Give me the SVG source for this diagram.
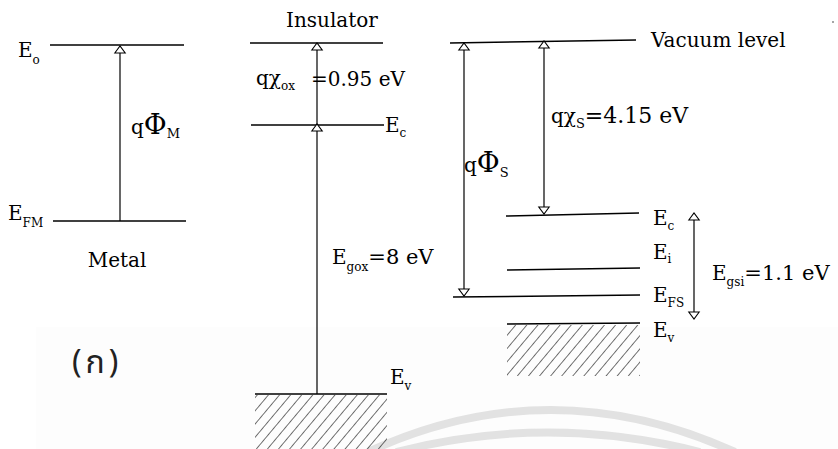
<svg xmlns="http://www.w3.org/2000/svg" width="838" height="449" viewBox="0 0 838 449">
<style>
.t{font-family:"DejaVu Serif","Liberation Serif",serif;font-size:20px;fill:#000}
.s{font-size:12px}
.n{font-size:21px}
.lv{stroke:#000;stroke-width:1.5;fill:none}
.ar{stroke:#000;stroke-width:1.2;fill:none}
.wm{stroke:#e2e2e2;stroke-width:8;fill:none}
</style>
<defs>
<marker id="tri" markerUnits="userSpaceOnUse" markerWidth="9" markerHeight="12" viewBox="0 0 9 12" refX="8" refY="6" orient="auto-start-reverse" style="overflow:visible">
<path d="M1,0.8 L8,6 L1,11.2 Z" fill="#fff" stroke="#000" stroke-width="1.1"/>
</marker>
<pattern id="hatch" patternUnits="userSpaceOnUse" width="8.5" height="20" patternTransform="rotate(40)">
<line x1="0" y1="0" x2="0" y2="20" stroke="#000" stroke-width="1.1"/>
</pattern>
</defs>
<rect x="0" y="0" width="838" height="449" fill="#fff"/>
<rect x="36" y="327" width="802" height="122" fill="#fdfdfd"/>
<g id="watermark">
<path class="wm" d="M368,452 Q550,368 735,452"/>
<path class="wm" d="M396,452 Q548,413 700,452"/>
</g>
<g id="metal">
<line class="lv" x1="50" y1="45" x2="184" y2="45"/>
<line class="lv" x1="53" y1="221" x2="186" y2="221"/>
<text class="t" x="18" y="57">E<tspan class="s" dy="7">o</tspan></text>
<text class="t" x="8" y="220">E<tspan class="s" dy="7">FM</tspan></text>
<text class="t" x="131" y="134">q<tspan font-size="28">Φ</tspan><tspan font-size="13" dy="4">M</tspan></text>
<text class="t" x="117" y="267" text-anchor="middle">Metal</text>
</g>
<g id="insulator">
<line class="lv" x1="250" y1="43" x2="383" y2="43"/>
<line class="lv" x1="251" y1="125" x2="384" y2="125"/>
<line class="lv" x1="255" y1="394" x2="387" y2="394"/>
<rect x="255" y="395" width="132" height="54" fill="url(#hatch)"/>
<text class="t" x="286" y="27" font-size="22">Insulator</text>
<text class="t" x="256" y="85" font-size="21">q<tspan>χ</tspan><tspan class="s" font-size="13" dy="5">ox</tspan></text>
<text class="t" x="311" y="86" font-size="22">=0.95 eV</text>
<text class="t" x="385" y="132">E<tspan class="s" dy="5">c</tspan></text>
<text class="t" x="332" y="264">E<tspan class="s" dy="7">gox</tspan><tspan class="n" dy="-7">=8 eV</tspan></text>
<text class="t" x="390" y="384">E<tspan class="s" dy="6">v</tspan></text>
</g>
<g id="semiconductor">
<line class="lv" x1="450" y1="43" x2="636" y2="40"/>
<line class="lv" x1="506" y1="216" x2="639" y2="213"/>
<line class="lv" x1="507" y1="270" x2="640" y2="268"/>
<line class="lv" x1="453" y1="297" x2="640" y2="295"/>
<line class="lv" x1="507" y1="324" x2="640" y2="323"/>
<rect x="507" y="325" width="133" height="51" fill="url(#hatch)"/>
<text class="t" x="651" y="47" font-size="21">Vacuum level</text>
<text class="t" x="464" y="172">q<tspan font-size="28">Φ</tspan><tspan font-size="13" dy="5">S</tspan></text>
<text class="t" x="551" y="123" font-size="21">q<tspan>χ</tspan><tspan font-size="13" dy="5">S</tspan><tspan font-size="22" dy="-5">=4.15 eV</tspan></text>
<text class="t" x="653" y="225">E<tspan class="s" dy="5">c</tspan></text>
<text class="t" x="653" y="259">E<tspan class="s" dy="4">i</tspan></text>
<text class="t" x="653" y="302">E<tspan class="s" dy="5">FS</tspan></text>
<text class="t" x="653" y="337">E<tspan class="s" dy="5">v</tspan></text>
<text class="t" x="712" y="280">E<tspan class="s" dy="6">gsi</tspan><tspan class="n" dy="-6">=1.1 eV</tspan></text>
</g>
<g id="connectors">
<line class="ar" x1="120" y1="221" x2="120" y2="46" marker-end="url(#tri)"/>
<line class="ar" x1="317" y1="394" x2="317" y2="124" marker-end="url(#tri)"/>
<line class="ar" x1="317" y1="125" x2="317" y2="43" marker-end="url(#tri)"/>
<line class="ar" x1="464" y1="43" x2="464" y2="296" marker-start="url(#tri)" marker-end="url(#tri)"/>
<line class="ar" x1="544" y1="41" x2="544" y2="214" marker-start="url(#tri)" marker-end="url(#tri)"/>
<line class="ar" x1="694" y1="213" x2="694" y2="319" marker-start="url(#tri)" marker-end="url(#tri)"/>
</g>
<text x="72" y="373" font-family="'Noto Sans Thai','Noto Sans','DejaVu Sans',sans-serif" font-size="32" letter-spacing="4" fill="#222">(ก)</text>
<circle cx="833" cy="22" r="0.8" fill="#333"/>
</svg>
